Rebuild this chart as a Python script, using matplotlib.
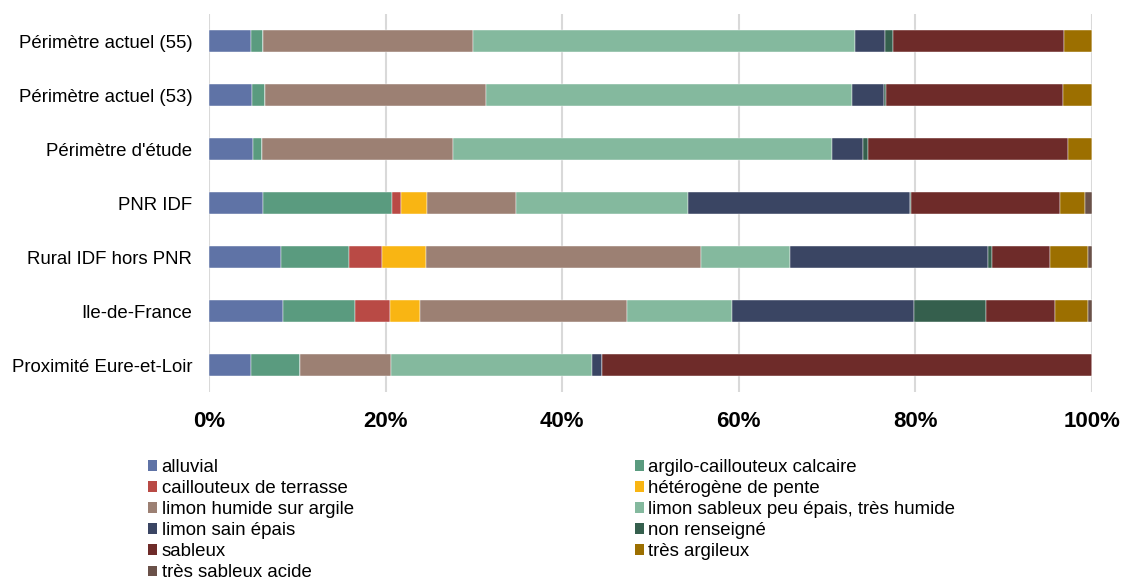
import numpy as np
import matplotlib.pyplot as plt
from matplotlib.patches import Patch

plt.rcParams['font.family'] = ['Liberation Sans', 'DejaVu Sans']

zones = ["Périmètre actuel (55)", "Périmètre actuel (53)", "Périmètre d'étude",
         "PNR IDF", "Rural IDF hors PNR", "Ile-de-France", "Proximité Eure-et-Loir"]

soils = ["alluvial", "argilo-caillouteux calcaire", "caillouteux de terrasse",
         "hétérogène de pente", "limon humide sur argile",
         "limon sableux peu épais, très humide", "limon sain épais",
         "non renseigné", "sableux", "très argileux", "très sableux acide"]

# shares in % per zone, same order as soils
alluvial    = [4.8, 4.9, 5.0, 6.15, 8.1, 8.4, 4.8]
argilo      = [1.3, 1.4, 0.95, 14.6, 7.7, 8.1, 5.5]
caillouteux = [0.0, 0.0, 0.0, 0.95, 3.8, 3.95, 0.0]
heterogene  = [0.0, 0.0, 0.0, 2.95, 4.95, 3.5, 0.0]
limon_hum   = [23.8, 25.1, 21.7, 10.1, 31.2, 23.4, 10.3]
limon_sab   = [43.3, 41.45, 42.95, 19.5, 10.1, 11.9, 22.75]
limon_sain  = [3.35, 3.65, 3.45, 25.15, 22.35, 20.6, 1.2]
non_rens    = [0.95, 0.2, 0.55, 0.15, 0.5, 8.15, 0.0]
sableux     = [19.3, 20.05, 22.7, 16.8, 6.5, 7.8, 55.45]
tres_arg    = [3.2, 3.25, 2.7, 2.9, 4.35, 3.75, 0.0]
tres_sab    = [0.0, 0.0, 0.0, 0.7, 0.5, 0.4, 0.0]

series = [alluvial, argilo, caillouteux, heterogene, limon_hum, limon_sab,
          limon_sain, non_rens, sableux, tres_arg, tres_sab]
colors = ["#5f73a6", "#5a9b7f", "#b94a45", "#f9b513", "#9c8073", "#84b99e",
          "#3a4563", "#355f4d", "#6e2b29", "#9c6f00", "#6a5149"]

fig = plt.figure(figsize=(11.22, 5.81), dpi=100)
ax = fig.add_axes([209/1122, 1-392/581, (1092-209)/1122, 378/581])

y = np.arange(len(zones))
left = np.zeros(len(zones))
for vals, c in zip(series, colors):
    v = np.array(vals)
    ax.barh(y, v, left=left, height=0.41, color=c, edgecolor='white', linewidth=0.3)
    left += v

ax.set_ylim(len(zones)-0.5, -0.5)
ax.set_xlim(0, 100)
ax.set_yticks(y)
ax.set_yticklabels(zones, fontsize=13.4)
ax.set_xticks(np.arange(0, 101, 20))
ax.set_xticklabels([f"{t}%" for t in range(0, 101, 20)], fontsize=16, fontweight='bold')
ax.tick_params(length=0)
ax.tick_params(axis='x', pad=13.5)
ax.tick_params(axis='y', pad=12)
ax.grid(axis='x', color='#d9d9d9', linewidth=1.5)
ax.set_axisbelow(True)
for s in ax.spines.values():
    s.set_visible(False)

# legend filled row by row like the original
order = list(range(0, 11, 2)) + list(range(1, 11, 2))
handles = [Patch(facecolor=colors[i], label=soils[i]) for i in order]
fig.legend(handles=handles, ncol=2, loc='upper left', bbox_to_anchor=(148/1122, 1-459/581),
           frameon=False, fontsize=13.4, handlelength=0.5, handleheight=0.5,
           handletextpad=0.23, labelspacing=0.22, columnspacing=15.1,
           borderaxespad=0, borderpad=0)

fig.savefig("out.png", dpi=100)
